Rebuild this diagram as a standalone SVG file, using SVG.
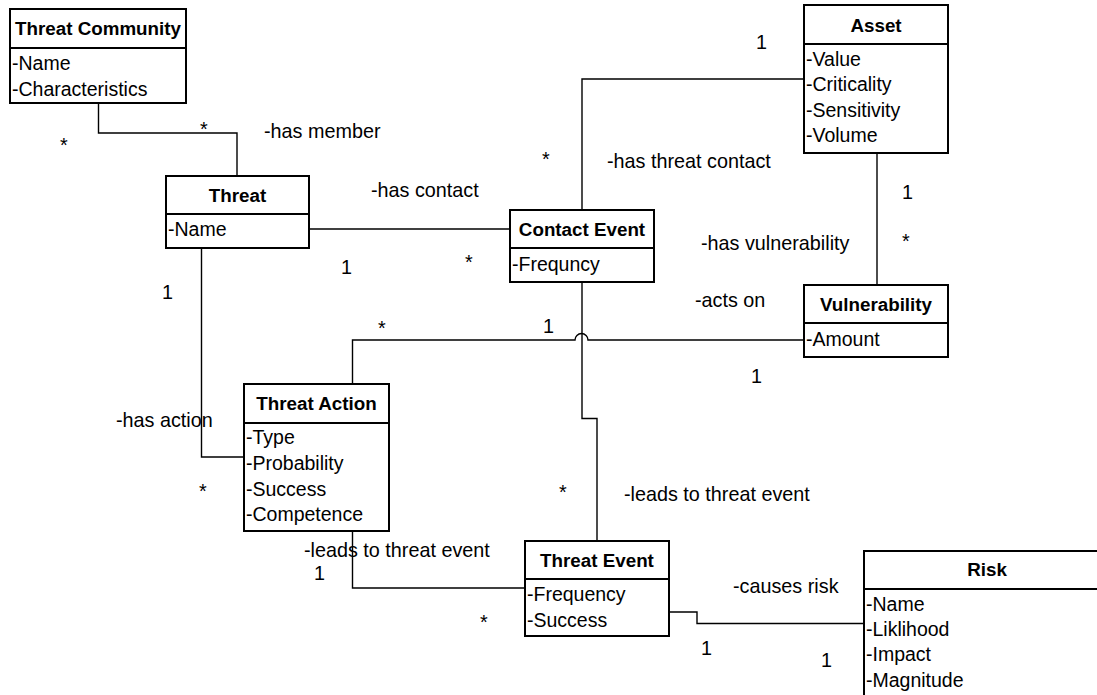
<svg xmlns="http://www.w3.org/2000/svg" width="1097" height="695" viewBox="0 0 1097 695">
<style>
.box{fill:#fff;stroke:#000;stroke-width:2}
.sep{stroke:#000;stroke-width:2}
.ttl{font-family:"Liberation Sans",Arial,sans-serif;font-weight:bold;font-size:18.8px;text-anchor:middle;fill:#000}
.att{font-family:"Liberation Sans",Arial,sans-serif;font-size:19.5px;fill:#000}
.lbl{font-family:"Liberation Sans",Arial,sans-serif;font-size:19.8px;fill:#000}
.con{fill:none;stroke:#000;stroke-width:1.4}
</style>
<rect width="1097" height="695" fill="#fff"/>
<g id="connectors">
<path class="con" d="M98.5,103 V133 H237 V176"/>
<path class="con" d="M309,229 H510"/>
<path class="con" d="M582,210 V79 H804"/>
<path class="con" d="M877,153 V285"/>
<path class="con" d="M352.5,384 V340 H575 A6.5,6.5 0 0 1 588,340 H804"/>
<path class="con" d="M582,282 V418.5 H597 V541"/>
<path class="con" d="M201.5,248 V457 H244"/>
<path class="con" d="M352.5,531 V588 H525"/>
<path class="con" d="M669,612 H697 V623.5 H864"/>
</g>
<g id="labels">
<text class="lbl" x="60" y="152">*</text>
<text class="lbl" x="200" y="136">*</text>
<text class="lbl" x="264" y="138">-has member</text>
<text class="lbl" x="371" y="197">-has contact</text>
<text class="lbl" x="341" y="274">1</text>
<text class="lbl" x="465" y="269">*</text>
<text class="lbl" x="542" y="166">*</text>
<text class="lbl" x="607" y="168">-has threat contact</text>
<text class="lbl" x="756" y="49">1</text>
<text class="lbl" x="902" y="199">1</text>
<text class="lbl" x="902" y="248">*</text>
<text class="lbl" x="701" y="250">-has vulnerability</text>
<text class="lbl" x="695" y="307">-acts on</text>
<text class="lbl" x="751" y="383">1</text>
<text class="lbl" x="162" y="299">1</text>
<text class="lbl" x="378" y="335">*</text>
<text class="lbl" x="543" y="333">1</text>
<text class="lbl" x="116" y="427">-has action</text>
<text class="lbl" x="199" y="498">*</text>
<text class="lbl" x="304" y="557">-leads to threat event</text>
<text class="lbl" x="314" y="580">1</text>
<text class="lbl" x="559" y="499">*</text>
<text class="lbl" x="624" y="501">-leads to threat event</text>
<text class="lbl" x="480" y="629">*</text>
<text class="lbl" x="733" y="593">-causes risk</text>
<text class="lbl" x="701" y="655">1</text>
<text class="lbl" x="821" y="667">1</text>
</g>
<g id="threat-community">
<rect class="box" x="10" y="9" width="176" height="94"/>
<line class="sep" x1="10" y1="48" x2="186" y2="48"/>
<text class="ttl" x="98" y="35">Threat Community</text>
<text class="att" x="12" y="70">-Name</text>
<text class="att" x="12" y="96">-Characteristics</text>
</g>
<g id="threat">
<rect class="box" x="166" y="176" width="143" height="72"/>
<line class="sep" x1="166" y1="214" x2="309" y2="214"/>
<text class="ttl" x="237.5" y="202">Threat</text>
<text class="att" x="168" y="236">-Name</text>
</g>
<g id="contact-event">
<rect class="box" x="510" y="210" width="144" height="72"/>
<line class="sep" x1="510" y1="248" x2="654" y2="248"/>
<text class="ttl" x="582" y="236">Contact Event</text>
<text class="att" x="512" y="271">-Frequncy</text>
</g>
<g id="asset">
<rect class="box" x="804" y="5" width="144" height="148"/>
<line class="sep" x1="804" y1="44" x2="948" y2="44"/>
<text class="ttl" x="876" y="32">Asset</text>
<text class="att" x="806" y="66">-Value</text>
<text class="att" x="806" y="91">-Criticality</text>
<text class="att" x="806" y="117">-Sensitivity</text>
<text class="att" x="806" y="142">-Volume</text>
</g>
<g id="vulnerability">
<rect class="box" x="804" y="285" width="144" height="72"/>
<line class="sep" x1="804" y1="323" x2="948" y2="323"/>
<text class="ttl" x="876" y="311">Vulnerability</text>
<text class="att" x="806" y="346">-Amount</text>
</g>
<g id="threat-action">
<rect class="box" x="244" y="384" width="145" height="147"/>
<line class="sep" x1="244" y1="423" x2="389" y2="423"/>
<text class="ttl" x="316.5" y="410">Threat Action</text>
<text class="att" x="246" y="444">-Type</text>
<text class="att" x="246" y="470">-Probability</text>
<text class="att" x="246" y="496">-Success</text>
<text class="att" x="246" y="521">-Competence</text>
</g>
<g id="threat-event">
<rect class="box" x="525" y="541" width="144" height="95"/>
<line class="sep" x1="525" y1="579" x2="669" y2="579"/>
<text class="ttl" x="597" y="567">Threat Event</text>
<text class="att" x="527" y="601">-Frequency</text>
<text class="att" x="527" y="627">-Success</text>
</g>
<g id="risk">
<rect class="box" x="864" y="551" width="246" height="160"/>
<line class="sep" x1="864" y1="589" x2="1110" y2="589"/>
<text class="ttl" x="987" y="576">Risk</text>
<text class="att" x="866" y="611">-Name</text>
<text class="att" x="866" y="636">-Liklihood</text>
<text class="att" x="866" y="661">-Impact</text>
<text class="att" x="866" y="687">-Magnitude</text>
</g>
</svg>
